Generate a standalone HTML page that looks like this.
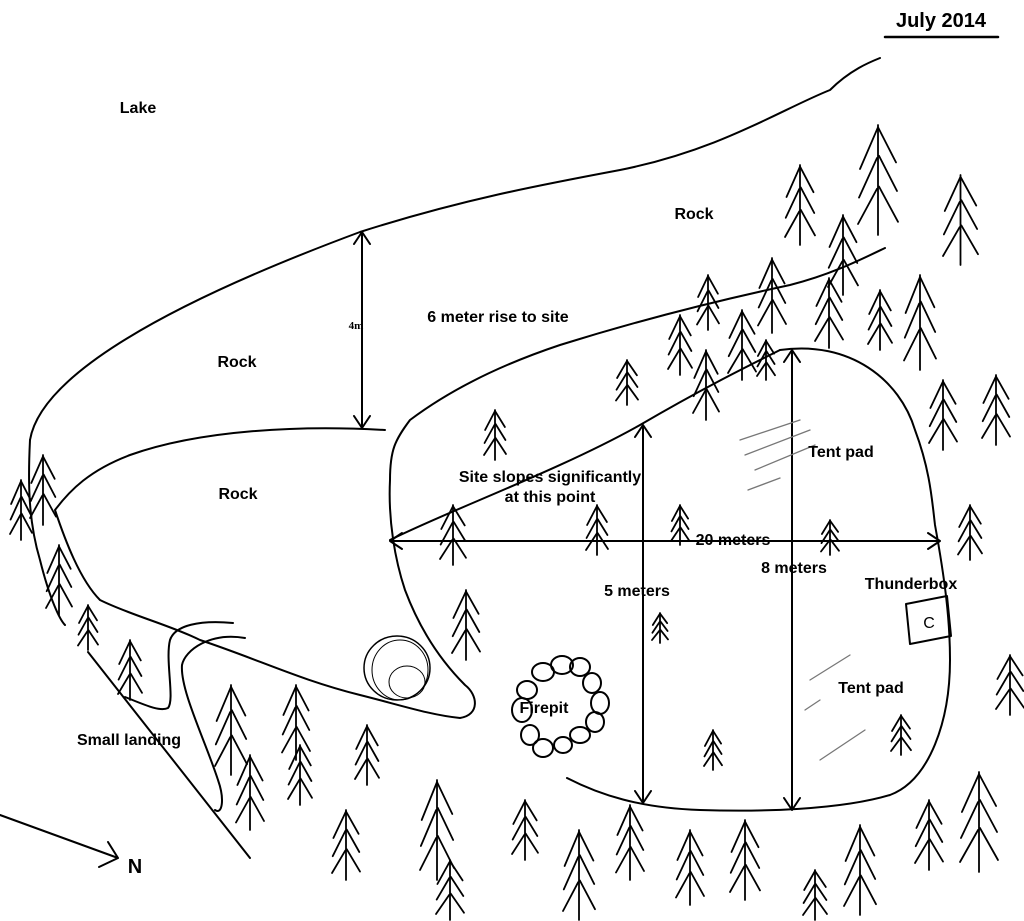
<!DOCTYPE html>
<html><head><meta charset="utf-8"><style>
html,body{margin:0;padding:0;background:#fff}
svg{display:block}
text{font-family:"Liberation Sans",sans-serif;font-weight:bold;fill:#000}
</style></head><body>
<svg width="1024" height="921" viewBox="0 0 1024 921" xmlns="http://www.w3.org/2000/svg">
<defs>
<symbol id="t" viewBox="0 0 40 100" preserveAspectRatio="none" overflow="visible">
<g fill="none" stroke="#000" stroke-width="1.8" stroke-linecap="round" vector-effect="non-scaling-stroke">
<path d="M20 0 L20 100" vector-effect="non-scaling-stroke"/>
<path d="M20 2 L2 40 M20 2 L38 34" vector-effect="non-scaling-stroke"/>
<path d="M19 30 L1 66 M21 28 L39 60" vector-effect="non-scaling-stroke"/>
<path d="M19 58 L0 90 M21 56 L40 88" vector-effect="non-scaling-stroke"/>
</g>
</symbol>
</defs>
<rect width="1024" height="921" fill="#fff"/>
<g fill="none" stroke="#000" stroke-width="2" stroke-linecap="round" stroke-linejoin="round">
<path d="M885 37 L998 37" stroke-width="2.5"/>
<path d="M30 440 C40 380 150 310 360 232 C460 200 540 185 620 170 C720 150 780 110 830 90 C850 70 870 62 880 58"/>
<path d="M30 440 C28 480 28 520 40 560 C50 600 60 620 65 625"/>
<path d="M88 652 L250 858"/>
<path d="M385 430 C300 425 200 430 130 455 C90 470 70 490 55 510 C65 540 80 580 100 600 C130 615 170 625 200 640 C260 660 300 680 360 695 C400 705 430 715 460 718 C480 715 478 695 465 685 C440 660 420 630 405 590 C395 560 388 520 390 480 C390 450 395 440 410 420 C450 390 500 365 560 345 C640 320 720 300 790 285 C830 275 860 260 885 248"/>
<path d="M233 623 C200 620 175 625 170 640 C165 660 175 700 168 708 C160 712 145 705 125 697"/>
<path d="M245 638 C210 632 185 650 182 665 C180 690 205 740 218 780 C225 800 222 815 215 810"/>
<path d="M390 540 C450 510 560 470 640 425 C700 390 740 370 780 350"/>
<path d="M780 350 C850 340 900 380 915 430 C930 470 932 500 935 525 C945 580 950 620 950 660 C950 720 930 780 890 795 C840 810 760 812 700 810 C640 808 600 795 567 778"/>
<path d="M362 232 L362 428 M354 244 L362 232 L370 244 M354 416 L362 428 L370 416"/>
<path d="M390 541 L940 541 M402 533 L390 541 L402 549 M928 533 L940 541 L928 549"/>
<path d="M792 350 L792 810 M784 362 L792 350 L800 362 M784 798 L792 810 L800 798"/>
<path d="M643 425 L643 803 M635 437 L643 425 L651 437 M635 791 L643 803 L651 791"/>
<path d="M0 815 L118 858 M99 867 L118 858 L108 842"/>
<path d="M906 604 L947 596 L951 636 L910 644 Z"/>
<ellipse cx="397" cy="668" rx="33" ry="32" stroke-width="1.5"/>
<ellipse cx="400" cy="670" rx="28" ry="30" stroke-width="1"/>
<ellipse cx="407" cy="682" rx="18" ry="16" stroke-width="1"/>
<g stroke-width="2">
<ellipse cx="543" cy="672" rx="11" ry="9"/><ellipse cx="562" cy="665" rx="11" ry="9"/>
<ellipse cx="580" cy="667" rx="10" ry="9"/><ellipse cx="592" cy="683" rx="9" ry="10"/>
<ellipse cx="600" cy="703" rx="9" ry="11"/><ellipse cx="595" cy="722" rx="9" ry="10"/>
<ellipse cx="580" cy="735" rx="10" ry="8"/><ellipse cx="563" cy="745" rx="9" ry="8"/>
<ellipse cx="543" cy="748" rx="10" ry="9"/><ellipse cx="530" cy="735" rx="9" ry="10"/>
<ellipse cx="522" cy="710" rx="10" ry="12"/><ellipse cx="527" cy="690" rx="10" ry="9"/>
</g>
<g stroke="#777" stroke-width="1.3">
<path d="M740 440 L800 420 M745 455 L810 430 M755 470 L815 445 M748 490 L780 478"/>
<path d="M810 680 L850 655 M805 710 L820 700 M820 760 L865 730"/>
</g>
</g>
<g>
<use href="#t" x="858" y="125" width="40" height="110"/>
<use href="#t" x="785" y="165" width="30" height="80"/>
<use href="#t" x="943" y="175" width="35" height="90"/>
<use href="#t" x="828" y="215" width="30" height="80"/>
<use href="#t" x="758" y="258" width="28" height="75"/>
<use href="#t" x="697" y="275" width="22" height="55"/>
<use href="#t" x="815" y="278" width="28" height="70"/>
<use href="#t" x="868" y="290" width="24" height="60"/>
<use href="#t" x="904" y="275" width="32" height="95"/>
<use href="#t" x="668" y="315" width="24" height="60"/>
<use href="#t" x="728" y="310" width="28" height="70"/>
<use href="#t" x="757" y="340" width="18" height="40"/>
<use href="#t" x="693" y="350" width="26" height="70"/>
<use href="#t" x="616" y="360" width="22" height="45"/>
<use href="#t" x="484" y="410" width="22" height="50"/>
<use href="#t" x="929" y="380" width="28" height="70"/>
<use href="#t" x="982" y="375" width="28" height="70"/>
<use href="#t" x="958" y="505" width="24" height="55"/>
<use href="#t" x="996" y="655" width="28" height="60"/>
<use href="#t" x="960" y="772" width="38" height="100"/>
<use href="#t" x="915" y="800" width="28" height="70"/>
<use href="#t" x="440" y="505" width="26" height="60"/>
<use href="#t" x="586" y="505" width="22" height="50"/>
<use href="#t" x="671" y="505" width="18" height="40"/>
<use href="#t" x="821" y="520" width="18" height="35"/>
<use href="#t" x="452" y="590" width="28" height="70"/>
<use href="#t" x="652" y="613" width="16" height="30"/>
<use href="#t" x="704" y="730" width="18" height="40"/>
<use href="#t" x="891" y="715" width="20" height="40"/>
<use href="#t" x="215" y="685" width="32" height="90"/>
<use href="#t" x="282" y="685" width="28" height="75"/>
<use href="#t" x="355" y="725" width="24" height="60"/>
<use href="#t" x="288" y="745" width="24" height="60"/>
<use href="#t" x="236" y="755" width="28" height="75"/>
<use href="#t" x="332" y="810" width="28" height="70"/>
<use href="#t" x="420" y="780" width="34" height="100"/>
<use href="#t" x="436" y="860" width="28" height="60"/>
<use href="#t" x="512" y="800" width="26" height="60"/>
<use href="#t" x="563" y="830" width="32" height="90"/>
<use href="#t" x="616" y="805" width="28" height="75"/>
<use href="#t" x="676" y="830" width="28" height="75"/>
<use href="#t" x="730" y="820" width="30" height="80"/>
<use href="#t" x="803" y="870" width="24" height="50"/>
<use href="#t" x="844" y="825" width="32" height="90"/>
<use href="#t" x="30" y="455" width="26" height="70"/>
<use href="#t" x="10" y="480" width="22" height="60"/>
<use href="#t" x="46" y="545" width="26" height="70"/>
<use href="#t" x="78" y="605" width="20" height="45"/>
<use href="#t" x="118" y="640" width="24" height="60"/>
</g>
<text x="941" y="27" font-size="20" text-anchor="middle">July 2014</text>
<text x="138" y="113" font-size="16" text-anchor="middle">Lake</text>
<text x="694" y="219" font-size="16" text-anchor="middle">Rock</text>
<text x="498" y="322" font-size="16" text-anchor="middle">6 meter rise to site</text>
<text x="237" y="367" font-size="16" text-anchor="middle">Rock</text>
<text x="356" y="329" font-size="11" text-anchor="middle" style="font-family:'Liberation Serif',serif">4m</text>
<text x="238" y="499" font-size="16" text-anchor="middle">Rock</text>
<text x="550" y="482" font-size="16" text-anchor="middle">Site slopes significantly</text>
<text x="550" y="502" font-size="16" text-anchor="middle">at this point</text>
<text x="733" y="545" font-size="16" text-anchor="middle">20 meters</text>
<text x="841" y="457" font-size="16" text-anchor="middle">Tent pad</text>
<text x="794" y="573" font-size="16" text-anchor="middle">8 meters</text>
<text x="637" y="596" font-size="16" text-anchor="middle">5 meters</text>
<text x="911" y="589" font-size="16" text-anchor="middle">Thunderbox</text>
<text x="929" y="628" font-size="16" text-anchor="middle" style="font-weight:normal">C</text>
<text x="871" y="693" font-size="16" text-anchor="middle">Tent pad</text>
<text x="544" y="713" font-size="16" text-anchor="middle">Firepit</text>
<text x="129" y="745" font-size="16" text-anchor="middle">Small landing</text>
<text x="135" y="873" font-size="20" text-anchor="middle">N</text>
</svg>
</body></html>
